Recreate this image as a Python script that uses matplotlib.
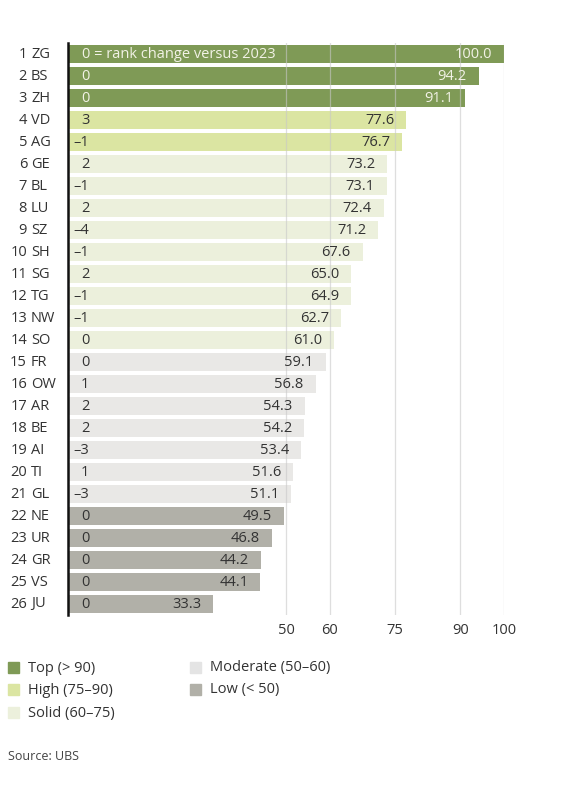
import matplotlib
matplotlib.use("Agg")
import matplotlib.pyplot as plt
from matplotlib.patches import Rectangle
from matplotlib.transforms import blended_transform_factory

plt.rcParams['font.family'] = ['Open Sans', 'DejaVu Sans']

ranks = list(range(1, 27))
cantons = ["ZG", "BS", "ZH", "VD", "AG", "GE", "BL", "LU", "SZ", "SH", "SG", "TG", "NW",
           "SO", "FR", "OW", "AR", "BE", "AI", "TI", "GL", "NE", "UR", "GR", "VS", "JU"]
values = [100.0, 94.2, 91.1, 77.6, 76.7, 73.2, 73.1, 72.4, 71.2, 67.6, 65.0, 64.9, 62.7,
          61.0, 59.1, 56.8, 54.3, 54.2, 53.4, 51.6, 51.1, 49.5, 46.8, 44.2, 44.1, 33.3]
rank_change = [0, 0, 0, 3, -1, 2, -1, 2, -4, -1, 2, -1, -1,
               0, 0, 1, 2, 2, -3, 1, -3, 0, 0, 0, 0, 0]
categories = ["Top"] * 3 + ["High"] * 2 + ["Solid"] * 9 + ["Moderate"] * 7 + ["Low"] * 5
xticks = [50, 60, 75, 90, 100]

legend_items = ["Top", "High", "Solid", "Moderate", "Low"]
legend_labels = ["Top (> 90)", "High (75–90)", "Solid (60–75)", "Moderate (50–60)", "Low (< 50)"]
colors = {"Top": "#7f9a56", "High": "#dbe5a2", "Solid": "#ecf0dc",
          "Moderate": "#e9e8e6", "Low": "#b1b0a8"}
legend_colors = {"Top": "#7f9a56", "High": "#dbe5a2", "Solid": "#ecf0dc",
                 "Moderate": "#e4e4e4", "Low": "#b1b0a8"}

W, H = 580, 796
fig = plt.figure(figsize=(W / 100, H / 100), dpi=100)
ax_left, ax_right = 68 / W, 504 / W
ax_top, ax_bot = 1 - 43 / H, 1 - 615 / H
ax = fig.add_axes([ax_left, ax_bot, ax_right - ax_left, ax_top - ax_bot])

ypos = list(range(len(values)))
ax.barh(ypos, values, height=0.78, color=[colors[c] for c in categories], zorder=1)
for t in xticks:
    ax.axvline(t, color="#c8c8c8", lw=0.9, zorder=2, alpha=0.6)

ax.set_xlim(0, 100)
ax.set_ylim(len(values) - 0.5, -0.5)
for s in ["top", "right", "bottom"]:
    ax.spines[s].set_visible(False)
ax.spines["left"].set_color("#111111")
ax.spines["left"].set_linewidth(1.8)
ax.spines["left"].set_zorder(5)
ax.set_yticks([])
ax.set_xticks(xticks)
ax.set_xticklabels([str(t) for t in xticks])
ax.tick_params(axis="x", length=0, pad=6, labelsize=10.5, labelcolor="#333333")

fs = 10.5
dark = "#333333"
trans_lab = blended_transform_factory(fig.transFigure, ax.transData)
for i, (r, c, v, ch, cat) in enumerate(zip(ranks, cantons, values, rank_change, categories)):
    tcol = "#f2f2e6" if cat == "Top" else dark
    fig.text(27 / W, 0, str(r), transform=trans_lab, ha="right", va="center",
             fontsize=fs, color=dark) if False else None
    ax.text(27 / W, i, str(r), transform=trans_lab, ha="right", va="center",
            fontsize=fs, color=dark)
    ax.text(31 / W, i, c, transform=trans_lab, ha="left", va="center",
            fontsize=fs, color=dark)
    chs = str(ch).replace("-", "\u2013")
    if i == 0:
        ax.text(3.2, i, chs + " = rank change versus 2023", ha="left", va="center",
                fontsize=fs, color=tcol, zorder=6)
    else:
        ax.annotate(chs, xy=(0, i), xytext=(21.5, 0), textcoords="offset pixels",
                    ha="right", va="center", fontsize=fs, color=tcol, zorder=6)
    ax.annotate(f"{v:.1f}", xy=(v, i), xytext=(-12, 0), textcoords="offset pixels",
                ha="right", va="center", fontsize=fs, color=tcol, zorder=6)

# Legend
leg_pos = [(8, 668), (8, 690), (8, 713), (190, 668), (190, 690)]
for key, lab, (lx, ly) in zip(legend_items, legend_labels, leg_pos):
    fig.patches.append(Rectangle((lx / W, 1 - (ly + 5) / H), 11 / W, 11 / H,
                                 transform=fig.transFigure, color=legend_colors[key]))
    fig.text((lx + 20) / W, 1 - ly / H, lab, ha="left", va="center",
             fontsize=fs, color=dark)

fig.text(8 / W, 1 - 756 / H, "Source: UBS", ha="left", va="center",
         fontsize=9, color="#444444")

fig.savefig("out.png", dpi=100, facecolor="white")
